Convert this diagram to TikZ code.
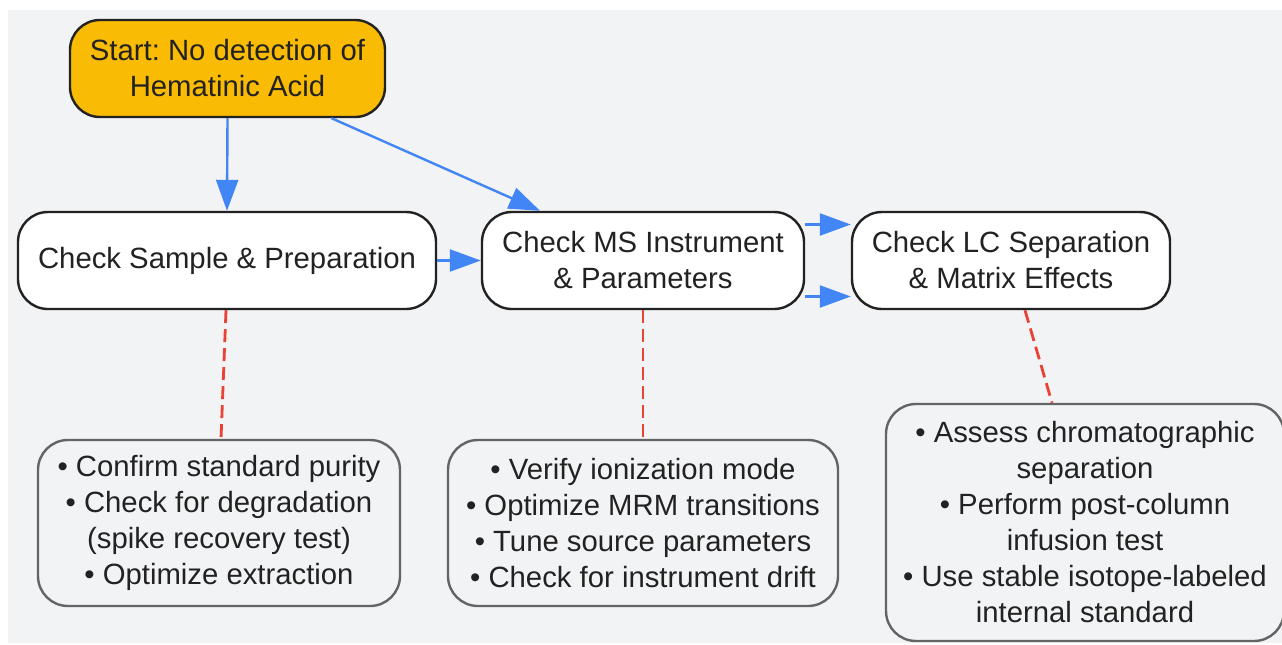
\documentclass[tikz,border=0pt]{standalone}
\usepackage{fontspec}
\setmainfont{Liberation Sans}
\usetikzlibrary{arrows.meta}
\frenchspacing

\definecolor{bgGray}{HTML}{F2F3F5}
\definecolor{startGold}{HTML}{FABB05}
\definecolor{boxLine}{HTML}{222222}
\definecolor{noteLine}{HTML}{646464}
\definecolor{flowBlue}{HTML}{4285F4}
\definecolor{linkRed}{HTML}{EA4335}
\definecolor{textDark}{HTML}{222222}

\begin{document}
\begin{tikzpicture}[x=1pt, y=-1pt,
  box/.style={draw=boxLine, line width=2.4pt, rounded corners=30pt, fill=white,
    align=center, inner sep=0pt, text=textDark, font=\fontsize{29.3}{36}\selectfont},
  note/.style={box, draw=noteLine, fill=bgGray},
  flow/.style={draw=flowBlue, line width=2.4pt, -{Triangle[length=31pt, width=22pt]}},
  link/.style={draw=linkRed, line width=2.8pt, dash pattern=on 13pt off 6pt}]
\useasboundingbox (0,0) rectangle (1282,645);
\fill [bgGray] (8,10) rectangle (1282,643);

% the four steps
\node [box, fill=startGold, minimum width=315, minimum height=97] (start) at (227.5,68.5)
  {Start: No detection of\\Hematinic Acid};
\node [box, minimum width=418, minimum height=97] (sample) at (227,260.5)
  {Check Sample \& Preparation};
\node [box, minimum width=322, minimum height=97] (ms) at (643,260.5)
  {Check MS Instrument\\\& Parameters};
\node [box, minimum width=318, minimum height=97] (lc) at (1011,260.5)
  {Check LC Separation\\\& Matrix Effects};

% the notes below them
\node [note, minimum width=362, minimum height=166] (purity) at (219,523)
  {• Confirm standard purity\\• Check for degradation\\(spike recovery test)\\• Optimize extraction};
\node [note, minimum width=390, minimum height=166] (tuning) at (643,523)
  {• Verify ionization mode\\• Optimize MRM transitions\\• Tune source parameters\\• Check for instrument drift};
\node [note, minimum width=398, minimum height=237] (matrix) at (1085,522.5)
  {• Assess chromatographic\\separation\\• Perform post-column\\infusion test\\• Use stable isotope-labeled\\internal standard};

\draw [flow] (start.south) -- (sample.north);
\draw [flow] ([xshift=104]start.south) -- ([xshift=-103]ms.north);
\draw [flow] (sample.east) -- (ms.west);
\draw [flow] ([yshift=-36]ms.east) -- ([yshift=-36]lc.west);
\draw [flow] ([yshift=36]ms.east) -- ([yshift=36]lc.west);

\draw [link] ([xshift=-1]sample.south) -- ([xshift=2]purity.north);
\draw [link] (ms.south) -- (tuning.north);
\draw [link] ([xshift=14]lc.south) -- ([xshift=-33]matrix.north);
\end{tikzpicture}
\end{document}
